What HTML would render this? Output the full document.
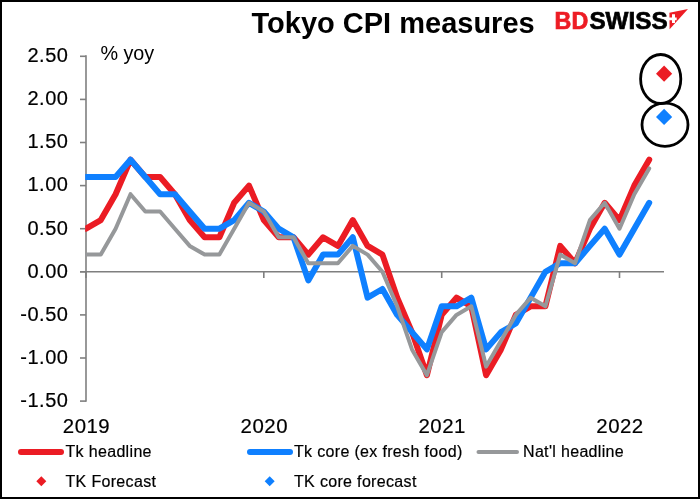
<!DOCTYPE html>
<html><head><meta charset="utf-8"><title>Tokyo CPI measures</title>
<style>
html,body{margin:0;padding:0;background:#fff;}
body{width:700px;height:499px;overflow:hidden;font-family:"Liberation Sans",Arial,sans-serif;}
svg{display:block}
text{font-family:"Liberation Sans",Arial,sans-serif;fill:#000}
</style></head><body>
<svg width="700" height="499" viewBox="0 0 700 499">
<rect x="0" y="0" width="700" height="499" fill="#fff"/>
<rect x="1" y="1" width="698" height="497" fill="none" stroke="#000" stroke-width="2"/>
<text x="393.1" y="32.6" text-anchor="middle" font-size="29" font-weight="bold">Tokyo CPI measures</text>
<g font-size="23.4" font-weight="bold" stroke-width="0.7" stroke-linejoin="miter"><text x="554.6" y="29" style="fill:#ed1c24;stroke:#ed1c24" textLength="33.6" lengthAdjust="spacingAndGlyphs">BD</text><text x="589.4" y="29" style="fill:#000;stroke:#000" textLength="78.2" lengthAdjust="spacingAndGlyphs">SWISS</text></g>
<path d="M669.4 12.8 L688 9 L669.6 29.3 Z" fill="#ed1c24"/>
<path d="M672 14.3h3v3.1h1.7v2.9h-1.7v2.8h-3v-2.8h-3v-2.9h3z" fill="#fff"/>

<g font-size="20" stroke="#000" stroke-width="0.2"><text x="68.4" y="406.9" text-anchor="end" letter-spacing="0.5">-1.50</text><text x="68.4" y="363.8" text-anchor="end" letter-spacing="0.5">-1.00</text><text x="68.4" y="320.7" text-anchor="end" letter-spacing="0.5">-0.50</text><text x="68.4" y="277.6" text-anchor="end" letter-spacing="0.5">0.00</text><text x="68.4" y="234.5" text-anchor="end" letter-spacing="0.5">0.50</text><text x="68.4" y="191.4" text-anchor="end" letter-spacing="0.5">1.00</text><text x="68.4" y="148.3" text-anchor="end" letter-spacing="0.5">1.50</text><text x="68.4" y="105.2" text-anchor="end" letter-spacing="0.5">2.00</text><text x="68.4" y="62.1" text-anchor="end" letter-spacing="0.5">2.50</text><text x="86.5" y="433" text-anchor="middle" letter-spacing="0.5" font-size="20.4">2019</text><text x="264.3" y="433" text-anchor="middle" letter-spacing="0.5" font-size="20.4">2020</text><text x="442.2" y="433" text-anchor="middle" letter-spacing="0.5" font-size="20.4">2021</text><text x="620.0" y="433" text-anchor="middle" letter-spacing="0.5" font-size="20.4">2022</text></g>
<text x="100.4" y="60" font-size="19.8">% yoy</text>
<g stroke="#7f7f7f" stroke-width="1.6" fill="none">
<line x1="86" y1="55.2" x2="86" y2="401.8"/>
<line x1="80" y1="271.8" x2="664" y2="271.8"/>
<line x1="80" y1="401.1" x2="86" y2="401.1"/><line x1="80" y1="358.0" x2="86" y2="358.0"/><line x1="80" y1="314.9" x2="86" y2="314.9"/><line x1="80" y1="271.8" x2="86" y2="271.8"/><line x1="80" y1="228.7" x2="86" y2="228.7"/><line x1="80" y1="185.6" x2="86" y2="185.6"/><line x1="80" y1="142.5" x2="86" y2="142.5"/><line x1="80" y1="99.4" x2="86" y2="99.4"/><line x1="80" y1="56.3" x2="86" y2="56.3"/>
<line x1="86.0" y1="271.8" x2="86.0" y2="278"/><line x1="263.8" y1="271.8" x2="263.8" y2="278"/><line x1="441.7" y1="271.8" x2="441.7" y2="278"/><line x1="619.5" y1="271.8" x2="619.5" y2="278"/>
</g>
<clipPath id="plot"><rect x="85.2" y="40" width="600" height="380"/></clipPath>
<g fill="none" stroke-linejoin="round" stroke-linecap="round" clip-path="url(#plot)">
<polyline stroke="#eb1c24" stroke-width="6" points="86.0,228.7 100.8,220.1 115.6,194.2 130.5,159.7 145.3,177.0 160.1,177.0 174.9,194.2 189.7,220.1 204.6,237.3 219.4,237.3 234.2,202.8 249.0,185.6 263.8,220.1 278.7,237.3 293.5,237.3 308.3,254.6 323.1,237.3 337.9,245.9 352.8,220.1 367.6,245.9 382.4,254.6 397.2,297.7 412.0,332.1 426.9,375.2 441.7,314.9 456.5,297.7 471.3,306.3 486.1,375.2 501.0,349.4 515.8,314.9 530.6,306.3 545.4,306.3 560.2,245.9 575.1,263.2 589.9,228.7 604.7,202.8 619.5,220.1 634.3,185.6 649.2,159.7"/>
<polyline stroke="#0f80ff" stroke-width="6" points="86.0,177.0 100.8,177.0 115.6,177.0 130.5,159.7 145.3,177.0 160.1,194.2 174.9,194.2 189.7,211.5 204.6,228.7 219.4,228.7 234.2,220.1 249.0,202.8 263.8,211.5 278.7,228.7 293.5,237.3 308.3,280.4 323.1,254.6 337.9,254.6 352.8,237.3 367.6,297.7 382.4,289.0 397.2,314.9 412.0,332.1 426.9,349.4 441.7,306.3 456.5,306.3 471.3,297.7 486.1,349.4 501.0,332.1 515.8,323.5 530.6,297.7 545.4,271.8 560.2,263.2 575.1,263.2 589.9,245.9 604.7,228.7 619.5,254.6 634.3,228.7 649.2,202.8"/>
<polyline stroke="#96989a" stroke-width="4" points="86.0,254.6 100.8,254.6 115.6,228.7 130.5,194.2 145.3,211.5 160.1,211.5 174.9,228.7 189.7,245.9 204.6,254.6 219.4,254.6 234.2,228.7 249.0,202.8 263.8,211.5 278.7,237.3 293.5,237.3 308.3,263.2 323.1,263.2 337.9,263.2 352.8,245.9 367.6,254.6 382.4,271.8 397.2,306.3 412.0,349.4 426.9,375.2 441.7,332.1 456.5,314.9 471.3,306.3 486.1,366.6 501.0,340.8 515.8,314.9 530.6,297.7 545.4,306.3 560.2,254.6 575.1,263.2 589.9,220.1 604.7,202.8 619.5,228.7 634.3,194.2 649.2,168.4"/>
</g>

<path d="M664.1 65.6l8.1 8.1l-8.1 8.1l-8.1-8.1z" fill="#eb1c24"/>
<path d="M664.1 108.8l8.1 8.1l-8.1 8.1l-8.1-8.1z" fill="#0f80ff"/>
<ellipse cx="660.7" cy="79" rx="20.1" ry="24.5" fill="none" stroke="#000" stroke-width="2.8"/>
<ellipse cx="665" cy="124.8" rx="23" ry="21.6" fill="none" stroke="#000" stroke-width="2.8"/>
<g stroke-linecap="round" fill="none">
<line x1="21" y1="452" x2="61" y2="452" stroke="#eb1c24" stroke-width="6"/>
<line x1="250" y1="452" x2="290" y2="452" stroke="#0f80ff" stroke-width="6"/>
<line x1="478.5" y1="452" x2="517" y2="452" stroke="#96989a" stroke-width="4"/>
</g>
<path d="M41.3 476.2l5 5l-5 5l-5-5z" fill="#eb1c24"/>
<path d="M269.7 476.2l5 5l-5 5l-5-5z" fill="#0f80ff"/>
<g font-size="16" letter-spacing="0.33" stroke="#000" stroke-width="0.2">
<text x="65.5" y="457">Tk headline</text>
<text x="294" y="457">Tk core (ex fresh food)</text>
<text x="523" y="457">Nat'l headline</text>
<text x="65.5" y="486.5">TK Forecast</text>
<text x="294" y="486.5">TK core forecast</text>
</g>
</svg>
</body></html>
